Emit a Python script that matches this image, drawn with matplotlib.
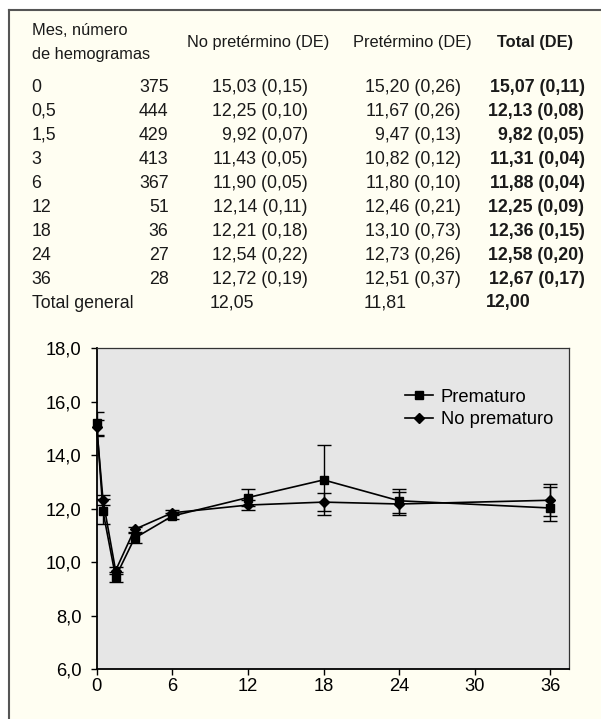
import matplotlib
matplotlib.use("Agg")
import matplotlib.pyplot as plt
from matplotlib.lines import Line2D
from matplotlib.patches import Rectangle

plt.rcParams['font.family'] = ['Liberation Sans', 'DejaVu Sans']

# ---------------- table data ----------------
meses = ["0", "0,5", "1,5", "3", "6", "12", "18", "24", "36"]
n_hemogramas = [375, 444, 429, 413, 367, 51, 36, 27, 28]
no_pret_mean = [15.03, 12.25, 9.92, 11.43, 11.90, 12.14, 12.21, 12.54, 12.72]
no_pret_de = [0.15, 0.10, 0.07, 0.05, 0.05, 0.11, 0.18, 0.22, 0.19]
pret_mean = [15.20, 11.67, 9.47, 10.82, 11.80, 12.46, 13.10, 12.73, 12.51]
pret_de = [0.26, 0.26, 0.13, 0.12, 0.10, 0.21, 0.73, 0.26, 0.37]
total_mean = [15.07, 12.13, 9.82, 11.31, 11.88, 12.25, 12.36, 12.58, 12.67]
total_de = [0.11, 0.08, 0.05, 0.04, 0.04, 0.09, 0.15, 0.20, 0.17]
total_general = [12.05, 11.81, 12.00]
headers = ["Mes, número\nde hemogramas", "No pretérmino (DE)", "Pretérmino (DE)", "Total (DE)"]

# ---------------- chart data ----------------
months = [0, 0.5, 1.5, 3, 6, 12, 18, 24, 36]
prem_vals = [15.20, 11.90, 9.45, 10.90, 11.73, 12.42, 13.08, 12.30, 12.03]
prem_err_lo = [0.47, 0.45, 0.20, 0.18, 0.12, 0.30, 1.30, 0.45, 0.49]
prem_err_hi = [0.41, 0.45, 0.20, 0.18, 0.12, 0.31, 1.30, 0.43, 0.80]
noprem_vals = [15.05, 12.33, 9.69, 11.23, 11.85, 12.14, 12.25, 12.18, 12.32]
noprem_err = [0.28, 0.20, 0.14, 0.10, 0.10, 0.20, 0.34, 0.43, 0.60]
series_labels = ["Prematuro", "No prematuro"]
xticks = [0, 6, 12, 18, 24, 30, 36]
yticks = [6, 8, 10, 12, 14, 16, 18]
ytick_labels = ["6,0", "8,0", "10,0", "12,0", "14,0", "16,0", "18,0"]

W, H = 601, 719
fig = plt.figure(figsize=(W / 100, H / 100), dpi=100)
fig.patch.set_facecolor('white')


def P(x, y):
    return (x / W, 1 - y / H)


def fmt(v):
    return f"{v:.2f}".replace('.', ',')


# panel background and frame
fig.add_artist(Rectangle(P(9, H), (W - 9) / W, (H - 9.5) / H, transform=fig.transFigure,
                         facecolor='#FFFEF2', edgecolor='none', zorder=0))
fig.add_artist(Line2D([9 / W, 9 / W], [0, 1 - 9.5 / H], transform=fig.transFigure,
                      color='#555555', lw=1.5))
fig.add_artist(Line2D([9 / W, 1], [1 - 9.5 / H, 1 - 9.5 / H], transform=fig.transFigure,
                      color='#555555', lw=1.5))

tc = '#1a1a1a'
fs_h = 11.8   # header size
fs = 12.8     # body size (regular)
fs_b = 12.8   # body size (bold)
# headers
h0a, h0b = headers[0].split("\n")
fig.text(*P(31.5, 35), h0a, fontsize=fs_h, color=tc, va='baseline', ha='left')
fig.text(*P(31.5, 59), h0b, fontsize=fs_h, color=tc, va='baseline', ha='left')
fig.text(*P(186.7, 47.5), headers[1], fontsize=fs_h, color=tc, va='baseline', ha='left')
fig.text(*P(352.6, 47.5), headers[2], fontsize=fs_h, color=tc, va='baseline', ha='left')
fig.text(*P(497.3, 47.5), headers[3], fontsize=fs_h, color=tc, va='baseline', ha='left',
         fontweight='bold')

for i in range(len(meses)):
    yb = 91.5 + 24 * i
    fig.text(*P(31.5, yb), meses[i], fontsize=fs, color=tc, va='baseline', ha='left')
    fig.text(*P(168.6, yb), str(n_hemogramas[i]), fontsize=fs, color=tc, va='baseline', ha='right')
    fig.text(*P(307.8, yb), f"{fmt(no_pret_mean[i])} ({fmt(no_pret_de[i])})", fontsize=fs,
             color=tc, va='baseline', ha='right')
    fig.text(*P(461, yb), f"{fmt(pret_mean[i])} ({fmt(pret_de[i])})", fontsize=fs,
             color=tc, va='baseline', ha='right')
    fig.text(*P(584.5, yb), f"{fmt(total_mean[i])} ({fmt(total_de[i])})", fontsize=fs_b,
             color=tc, va='baseline', ha='right', fontweight='bold')

yb = 91.5 + 24 * len(meses)
fig.text(*P(31.5, yb), "Total general", fontsize=fs, color=tc, va='baseline', ha='left')
fig.text(*P(209.7, yb), fmt(total_general[0]), fontsize=fs, color=tc, va='baseline', ha='left')
fig.text(*P(364, yb), fmt(total_general[1]), fontsize=fs, color=tc, va='baseline', ha='left')
fig.text(*P(486, yb), fmt(total_general[2]), fontsize=fs_b, color=tc, va='baseline', ha='left',
         fontweight='bold')

# ---------------- chart ----------------
ax_l, ax_r, ax_t, ax_b = 96.7, 569.3, 348.3, 669.3
ax = fig.add_axes([ax_l / W, 1 - ax_b / H, (ax_r - ax_l) / W, (ax_b - ax_t) / H])
ax.set_facecolor('#E6E6E6')
ax.set_xlim(0, 37.5)
ax.set_ylim(6, 18)

ax.errorbar(months, prem_vals, yerr=[prem_err_lo, prem_err_hi], fmt='none', ecolor='black',
            elinewidth=1.0, capsize=4.8, capthick=1.0, zorder=3)
ax.errorbar(months, noprem_vals, yerr=noprem_err, fmt='none', ecolor='black',
            elinewidth=1.0, capsize=4.8, capthick=1.0, zorder=3)
l1, = ax.plot(months, prem_vals, color='black', lw=1.2, marker='s', markersize=5.8,
              label=series_labels[0], zorder=4, clip_on=False)
l2, = ax.plot(months, noprem_vals, color='black', lw=1.2, marker='D', markersize=5.5,
              label=series_labels[1], zorder=5, clip_on=False)

ax.set_xticks(xticks)
ax.set_xticklabels([str(t) for t in xticks])
ax.set_yticks(yticks)
ax.set_yticklabels(ytick_labels)
ax.tick_params(axis='both', labelsize=13.2, colors='black', direction='out', width=1.0)
ax.tick_params(axis='y', length=4, pad=7)
ax.tick_params(axis='x', length=4, pad=2.5)
for s in ['left', 'bottom']:
    ax.spines[s].set_linewidth(1.3)
    ax.spines[s].set_color('black')
for s in ['top', 'right']:
    ax.spines[s].set_linewidth(0.9)
    ax.spines[s].set_color('#333333')

leg = ax.legend(handles=[l1, l2], loc='upper left', bbox_to_anchor=P(405, 388.5),
                bbox_transform=fig.transFigure, frameon=False, fontsize=13.2,
                handlelength=1.55, handletextpad=0.4, labelspacing=0.3,
                borderpad=0, borderaxespad=0)

fig.savefig('out.png', dpi=100, facecolor=fig.get_facecolor())
